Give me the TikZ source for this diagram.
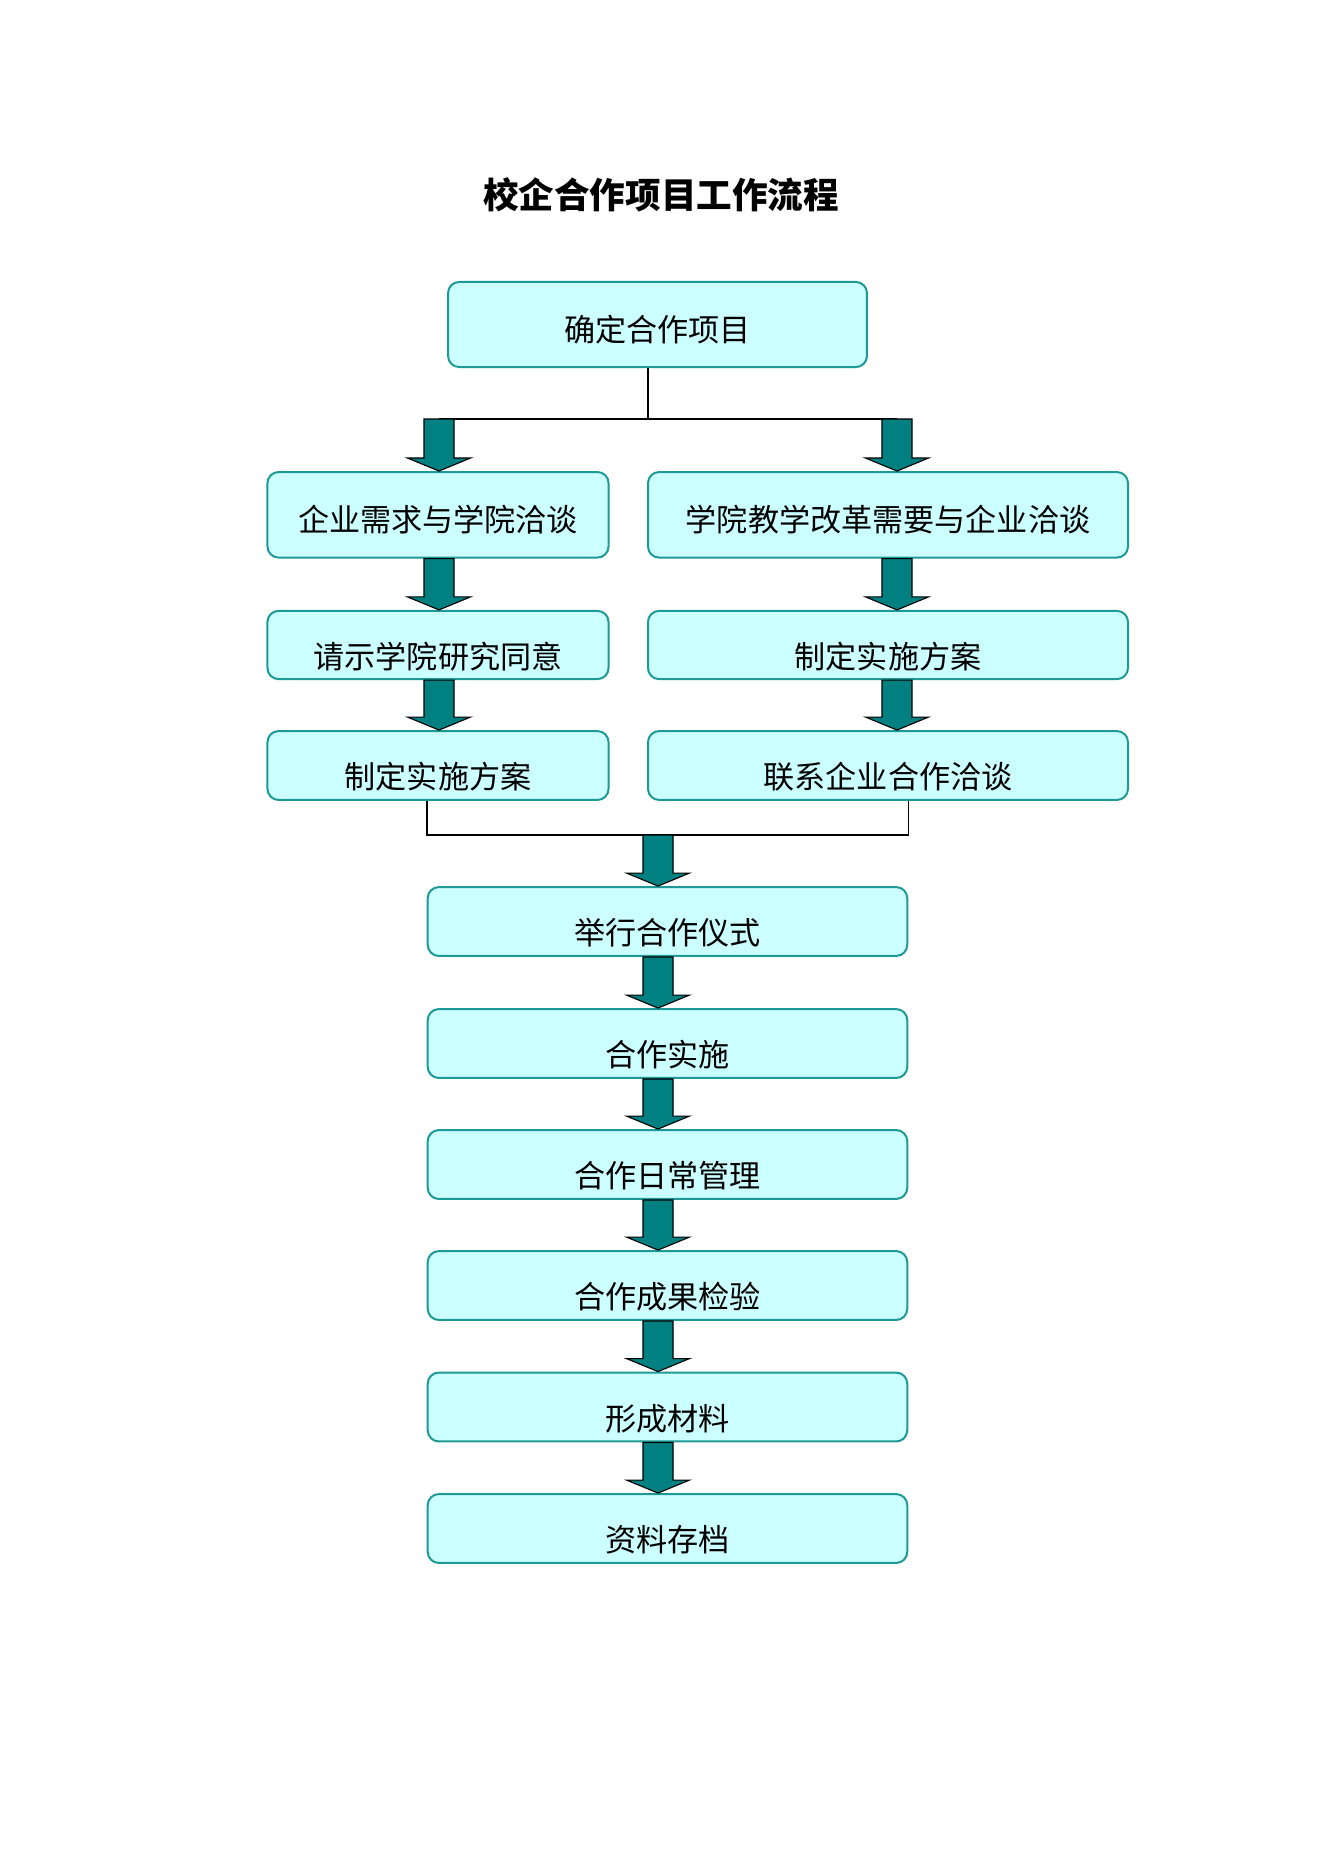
\documentclass[tikz,border=0pt]{standalone}
\usepackage{fontspec}
\newfontfamily\cjk{Noto Sans CJK SC}
\usetikzlibrary{calc}
\definecolor{boxfill}{HTML}{CCFFFF}
\definecolor{boxline}{HTML}{1E9A96}
\definecolor{arrowfill}{HTML}{008080}
\tikzset{
  box/.style={draw=boxline, fill=boxfill, line width=0.9pt, rounded corners=5pt,
    inner sep=0pt, font={\cjk\fontsize{14pt}{16pt}\selectfont}, text depth=0pt},
  boxhi/.style={box, text height=15pt},
  boxlo/.style={box, text height=21pt},
  leftcol/.style={minimum width=153.5pt},
  rightcol/.style={minimum width=216pt},
  midcol/.style={minimum width=215.8pt, minimum height=31pt},
  link/.style={draw=black, line width=0.7pt},
  blockarrow/.style={fill=arrowfill, draw=black, line width=0.5pt, line join=miter},
}
\newcommand\blockarr[2]{%
  \path[blockarrow] let \p1=(#1), \p2=(#2) in
  (\x1-6.75pt,\y1) -- (\x1+6.75pt,\y1) -- (\x1+6.75pt,\y2+5.85pt) --
  (\x1+14.2pt,\y2+5.85pt) -- (\x1,\y2) -- (\x1-14.2pt,\y2+5.85pt) --
  (\x1-6.75pt,\y2+5.85pt) -- cycle;}
\begin{document}
\begin{tikzpicture}[x=0.45pt,y=-0.45pt]
\useasboundingbox (0,0) rectangle (1322,1871);
\node[font={\cjk\bfseries\fontsize{16pt}{18pt}\selectfont}] (title) at (661,194.5) {校企合作项目工作流程};
% boxes
\node[boxhi, minimum width=188.5pt, minimum height=38.3pt] (top) at (657.5,324.5) {确定合作项目};
\node[boxhi, leftcol, minimum height=38.5pt] (l2) at (438,514.8) {企业需求与学院洽谈};
\node[boxhi, rightcol, minimum height=38.5pt] (r2) at (888,514.8) {学院教学改革需要与企业洽谈};
\node[boxlo, leftcol, minimum height=30.7pt] (l3) at (438,645) {请示学院研究同意};
\node[boxlo, rightcol, minimum height=30.7pt] (r3) at (888,645) {制定实施方案};
\node[boxlo, leftcol, minimum height=31pt] (l4) at (438,765.5) {制定实施方案};
\node[boxlo, rightcol, minimum height=31pt] (r4) at (888,765.5) {联系企业合作洽谈};
\node[boxlo, midcol] (c1) at (667.5,921.5) {举行合作仪式};
\node[boxlo, midcol] (c2) at (667.5,1043.5) {合作实施};
\node[boxlo, midcol] (c3) at (667.5,1164.5) {合作日常管理};
\node[boxlo, midcol] (c4) at (667.5,1285.5) {合作成果检验};
\node[boxlo, midcol] (c5) at (667.5,1407) {形成材料};
\node[boxlo, midcol] (c6) at (667.5,1528.5) {资料存档};
% split and join points
\coordinate (split) at (648,419);
\coordinate (sl) at (439,419);
\coordinate (sr) at (897,419);
\coordinate (join) at (658,835);
% connector lines
\draw[link] (split |- top.south) -- (split);
\draw[link] (sl) -- (sr);
\draw[link] (l4.south -| c1.west) |- (join) -| (r4.south -| c1.east);
% block arrows
\blockarr{sl}{l2.north -| sl}
\blockarr{sr}{r2.north -| sr}
\blockarr{l2.south -| sl}{l3.north -| sl}
\blockarr{r2.south -| sr}{r3.north -| sr}
\blockarr{l3.south -| sl}{l4.north -| sl}
\blockarr{r3.south -| sr}{r4.north -| sr}
\blockarr{join}{c1.north -| join}
\blockarr{c1.south -| join}{c2.north -| join}
\blockarr{c2.south -| join}{c3.north -| join}
\blockarr{c3.south -| join}{c4.north -| join}
\blockarr{c4.south -| join}{c5.north -| join}
\blockarr{c5.south -| join}{c6.north -| join}
\end{tikzpicture}
\end{document}
